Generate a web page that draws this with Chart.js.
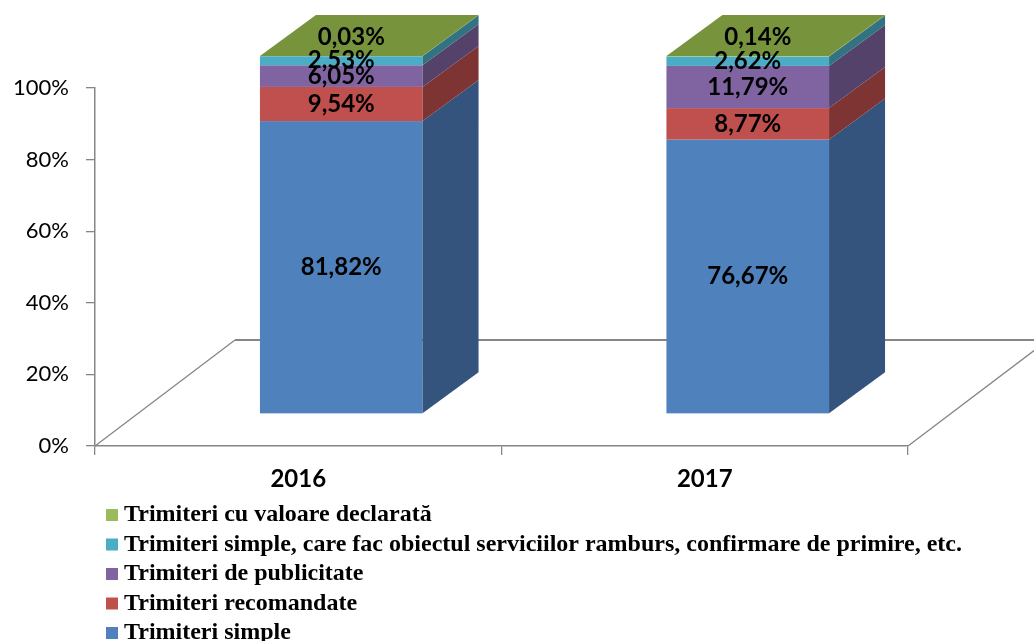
<!DOCTYPE html>
<html>
<head>
<meta charset="utf-8">
<script src="https://cdn.jsdelivr.net/npm/chart.js@4.4.1/dist/chart.umd.min.js"></script>
<style>
  html, body { margin: 0; padding: 0; background: #fff; }
</style>
</head>
<body>
<canvas id="myChart" width="1034" height="641"></canvas>
<script>
const years = ["2016", "2017"];
const seriesNames = [
  "Trimiteri simple",
  "Trimiteri recomandate",
  "Trimiteri de publicitate",
  "Trimiteri simple, care fac obiectul serviciilor ramburs, confirmare de primire, etc.",
  "Trimiteri cu valoare declarată",
];
const simple = [81.82, 76.67];
const recomandate = [9.54, 8.77];
const publicitate = [6.05, 11.79];
const ramburs = [2.53, 2.62];
const valoareDeclarata = [0.03, 0.14];
const yTicks = [0, 20, 40, 60, 80, 100];

const objColors = {
  blue: { front: "#4F81BD", side: "#34547E" },
  red: { front: "#C0504D", side: "#7E3432" },
  purple: { front: "#8064A2", side: "#54426B" },
  cyan: { front: "#4BACC6", side: "#317283" },
  green: { front: "#9BBB59", side: "#66803A", top: "#77933C" },
  axis: "#868686",
};

// depth of the 3d look, in pixels
const barShift = { x: 43, y: -32 };
const barDepth = { x: 56, y: -41 };
const floorDepth = { x: 140, y: -106 };

const fmt = (v) => v.toFixed(2).replace(".", ",") + "%";

const bar3d = {
  id: "bar3d",
  beforeDatasetsDraw(chart) {
    const { ctx, chartArea } = chart;
    const { left, right, bottom } = chartArea;
    ctx.save();
    ctx.strokeStyle = objColors.axis;
    ctx.lineWidth = 1.3;
    ctx.beginPath();
    ctx.moveTo(left, bottom);
    ctx.lineTo(left + floorDepth.x, bottom + floorDepth.y);
    ctx.moveTo(right, bottom);
    ctx.lineTo(right + floorDepth.x, bottom + floorDepth.y);
    ctx.stroke();
    ctx.lineWidth = 2.2;
    ctx.beginPath();
    ctx.moveTo(left + floorDepth.x, bottom + floorDepth.y);
    ctx.lineTo(right + floorDepth.x, bottom + floorDepth.y);
    ctx.stroke();
    ctx.restore();
  },
  beforeDatasetDraw() {
    return false;
  },
  afterDatasetsDraw(chart) {
    const { ctx } = chart;
    const sets = chart.data.datasets;
    ctx.save();
    years.forEach((_, i) => {
      sets.forEach((ds, k) => {
        const el = chart.getDatasetMeta(k).data[i];
        const w = el.width;
        const l = el.x - w / 2 + barShift.x;
        const r = el.x + w / 2 + barShift.x;
        const t = el.y + barShift.y;
        const b = el.base + barShift.y;
        ctx.fillStyle = ds.backgroundColor;
        ctx.fillRect(l, t, w, b - t);
        ctx.fillStyle = ds.sideColor;
        ctx.beginPath();
        ctx.moveTo(r, t);
        ctx.lineTo(r + barDepth.x, t + barDepth.y);
        ctx.lineTo(r + barDepth.x, b + barDepth.y);
        ctx.lineTo(r, b);
        ctx.closePath();
        ctx.fill();
        if (k === sets.length - 1) {
          ctx.fillStyle = ds.topColor;
          ctx.beginPath();
          ctx.moveTo(l, t);
          ctx.lineTo(l + barDepth.x, t + barDepth.y);
          ctx.lineTo(r + barDepth.x, t + barDepth.y);
          ctx.lineTo(r, t);
          ctx.closePath();
          ctx.fill();
        }
      });
      // labels
      ctx.fillStyle = "#000";
      ctx.font = "bold 24px Lato";
      ctx.textAlign = "center";
      ctx.textBaseline = "middle";
      sets.forEach((ds, k) => {
        const el = chart.getDatasetMeta(k).data[i];
        const cx = el.x + barShift.x;
        let cy = (el.y + el.base) / 2 + barShift.y;
        let lx = cx;
        if (k === sets.length - 1) {
          lx = cx + barDepth.x * 0.18;
          cy = el.y + barShift.y + barDepth.y * 0.45;
        }
        ctx.fillText(fmt(ds.data[i]), lx, cy);
      });
    });
    ctx.restore();
  },
  afterDraw(chart) {
    const { ctx } = chart;
    const sets = chart.data.datasets;
    ctx.save();
    ctx.font = "bold 24px 'Liberation Serif'";
    ctx.textBaseline = "middle";
    ctx.textAlign = "left";
    for (let k = sets.length - 1, row = 0; k >= 0; k--, row++) {
      const y = 515 + row * 29.5;
      ctx.fillStyle = sets[k].backgroundColor;
      ctx.fillRect(106, y - 6, 12, 12);
      ctx.fillStyle = "#000";
      ctx.fillText(sets[k].label, 124, y);
    }
    ctx.restore();
  },
};

const seriesData = [simple, recomandate, publicitate, ramburs, valoareDeclarata];
const seriesColors = [objColors.blue, objColors.red, objColors.purple, objColors.cyan, objColors.green];

new Chart(document.getElementById("myChart"), {
  type: "bar",
  data: {
    labels: years,
    datasets: seriesData.map((data, k) => ({
      label: seriesNames[k],
      data,
      backgroundColor: seriesColors[k].front,
      sideColor: seriesColors[k].side,
      topColor: seriesColors[k].top || seriesColors[k].side,
      categoryPercentage: 1,
      barPercentage: 0.4,
    })),
  },
  options: {
    responsive: false,
    animation: false,
    layout: { padding: { top: 88, right: 126, left: 0, bottom: 0 } },
    plugins: {
      legend: { display: false },
      tooltip: { enabled: false },
    },
    scales: {
      x: {
        stacked: true,
        grid: {
          drawOnChartArea: false,
          drawTicks: true,
          tickLength: 9,
          offset: true,
          color: objColors.axis,
          lineWidth: 1.3,
        },
        border: { color: objColors.axis, width: 1.5 },
        ticks: {
          color: "#000",
          font: { family: "Lato", weight: "bold", size: 24 },
          padding: 10,
        },
        afterFit(scale) {
          scale.height = 195;
        },
      },
      y: {
        stacked: true,
        min: 0,
        max: 100,
        afterBuildTicks(scale) {
          scale.ticks = yTicks.map((value) => ({ value }));
        },
        grid: {
          drawOnChartArea: false,
          drawTicks: true,
          tickLength: 9,
          color: objColors.axis,
          lineWidth: 1.3,
        },
        border: { color: objColors.axis, width: 1.5 },
        ticks: {
          color: "#000",
          font: { family: "Lato", size: 22 },
          padding: 17,
          callback: (v) => v + "%",
        },
        afterFit(scale) {
          scale.width = 95;
        },
      },
    },
  },
  plugins: [bar3d],
});
</script>
</body>
</html>
